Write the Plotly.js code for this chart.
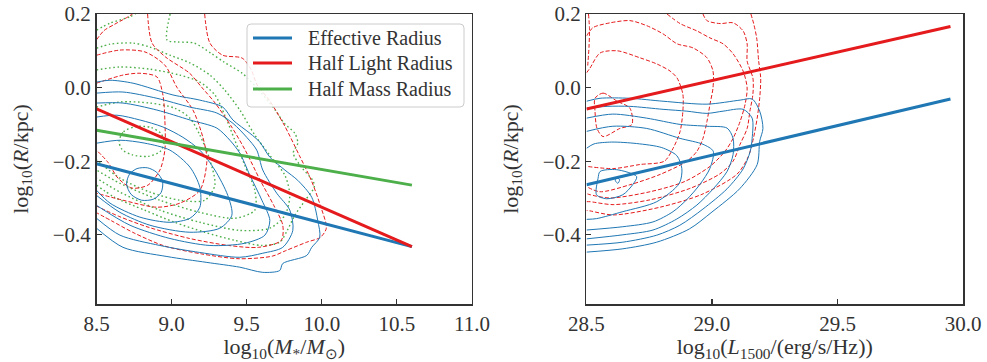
<!DOCTYPE html>
<html>
<head>
<meta charset="utf-8">
<script src="https://cdn.plot.ly/plotly-3.0.1.min.js"></script>
<style>html,body{margin:0;padding:0;background:#fff;}#chart{width:987px;height:362px;}</style>
</head>
<body>
<div id="chart"></div>
<script>
// ---------- Fit lines ----------
const massFitX = [8.5, 10.6];
const massEffY = [-0.207, -0.432];
const massHalfLightY = [-0.058, -0.432];
const massHalfMassY = [-0.116, -0.265];
const lumFitX = [28.5, 29.95];
const lumEffY = [-0.264, -0.031];
const lumHalfLightY = [-0.058, 0.166];
const legendLabels = ['Effective Radius', 'Half Light Radius', 'Half Mass Radius'];

// ---------- Left panel contours (stellar mass) ----------
// Effective radius (blue, solid)
const massEffC1 = [[8.5,0.015],[8.59,0.02],[8.743,0.012],[9.009,-0.02],[9.188,-0.034],[9.341,-0.053],[9.408,-0.088],[9.521,-0.124],[9.587,-0.148],[9.654,-0.189],[9.754,-0.224],[9.84,-0.252],[9.933,-0.298],[9.973,-0.361],[9.986,-0.407],[9.933,-0.434],[9.9,-0.456],[9.74,-0.478],[9.72,-0.497],[9.607,-0.502],[9.454,-0.488],[9.235,-0.475],[8.969,-0.459],[8.676,-0.434],[8.5,-0.382]];
const massEffC2 = [[8.5,-0.015],[8.676,-0.012],[8.902,-0.029],[9.122,-0.053],[9.301,-0.069],[9.408,-0.097],[9.5,-0.135],[9.567,-0.17],[9.607,-0.224],[9.7,-0.287],[9.787,-0.333],[9.807,-0.388],[9.74,-0.434],[9.607,-0.45],[9.454,-0.461],[9.188,-0.448],[8.922,-0.429],[8.656,-0.401],[8.5,-0.355]];
const massEffC3 = [[8.5,-0.042],[8.676,-0.042],[8.902,-0.061],[9.122,-0.088],[9.301,-0.11],[9.388,-0.143],[9.454,-0.178],[9.521,-0.238],[9.601,-0.306],[9.654,-0.361],[9.621,-0.401],[9.487,-0.423],[9.255,-0.429],[8.989,-0.41],[8.723,-0.374],[8.5,-0.32]];
const massEffC4 = [[8.5,-0.08],[8.636,-0.075],[8.789,-0.088],[8.942,-0.107],[9.075,-0.135],[9.188,-0.17],[9.288,-0.224],[9.374,-0.293],[9.401,-0.347],[9.321,-0.382],[9.122,-0.393],[8.856,-0.374],[8.656,-0.339],[8.5,-0.293]];
const massEffC5 = [[8.5,-0.151],[8.656,-0.143],[8.822,-0.151],[8.989,-0.17],[9.122,-0.216],[9.188,-0.271],[9.188,-0.325],[9.122,-0.355],[8.989,-0.366],[8.789,-0.352],[8.59,-0.314],[8.5,-0.279]];
const massEffC6 = [[8.70,-0.262],[8.72,-0.235],[8.77,-0.22],[8.84,-0.218],[8.9,-0.23],[8.94,-0.255],[8.93,-0.285],[8.88,-0.303],[8.8,-0.306],[8.73,-0.29],[8.70,-0.262]];
// Half light radius (red, dashed)
const massHLC0 = [[8.5,0.13],[8.55,0.155],[8.62,0.172],[8.7,0.19],[8.74,0.2]];
const massHLC1 = [[9.22,0.2],[9.255,0.121],[9.34,0.088],[9.47,0.08],[9.53,0.048],[9.57,0.007],[9.65,-0.034],[9.75,-0.102],[9.85,-0.184],[9.93,-0.252],[9.99,-0.32],[10.03,-0.382],[9.99,-0.407],[9.9,-0.42],[9.76,-0.443],[9.67,-0.458],[9.45,-0.465],[9.2,-0.452],[8.95,-0.43],[8.75,-0.395],[8.6,-0.362],[8.5,-0.34]];
const massHLC2 = [[8.84,0.2],[8.87,0.121],[8.96,0.083],[9.12,0.039],[9.2,0.001],[9.29,-0.042],[9.4,-0.107],[9.49,-0.17],[9.59,-0.252],[9.68,-0.32],[9.74,-0.374],[9.73,-0.415],[9.58,-0.434],[9.38,-0.429],[9.12,-0.41],[8.85,-0.38],[8.65,-0.35],[8.5,-0.322]];
const massHLC3 = [[8.5,0.088],[8.656,0.102],[8.822,0.097],[8.955,0.061],[9.035,0.001],[9.142,-0.061],[9.208,-0.135],[9.235,-0.197],[9.188,-0.279],[9.055,-0.314],[8.902,-0.325],[8.676,-0.306],[8.5,-0.287]];
const massHLC4 = [[8.5,0.012],[8.676,0.034],[8.789,0.039],[8.902,0.029],[8.942,-0.02],[8.955,-0.088],[8.955,-0.17],[8.922,-0.224],[8.842,-0.265],[8.736,-0.273],[8.643,-0.246],[8.576,-0.203],[8.5,-0.17]];
// Half mass radius (green, dotted)
const massHMC0 = [[8.5,0.156],[8.59,0.175],[8.72,0.192],[8.76,0.2]];
const massHMC1 = [[8.99,0.2],[8.97,0.129],[9.04,0.124],[9.15,0.121],[9.26,0.094],[9.35,0.069],[9.47,0.039],[9.57,-0.002],[9.69,-0.061],[9.75,-0.097],[9.82,-0.124],[9.84,-0.151],[9.81,-0.178],[9.87,-0.219],[9.94,-0.252],[9.95,-0.27],[9.89,-0.306],[9.82,-0.347],[9.77,-0.388],[9.72,-0.42],[9.6,-0.429],[9.42,-0.415],[9.22,-0.393],[9.02,-0.366],[8.82,-0.333],[8.62,-0.298],[8.5,-0.265]];
const massHMC2 = [[8.5,0.107],[8.59,0.118],[8.743,0.121],[8.856,0.11],[8.989,0.088],[9.122,0.067],[9.255,0.034],[9.354,-0.007],[9.454,-0.061],[9.554,-0.129],[9.654,-0.184],[9.754,-0.238],[9.787,-0.293],[9.754,-0.347],[9.654,-0.382],[9.454,-0.388],[9.188,-0.366],[8.922,-0.333],[8.656,-0.284],[8.5,-0.246]];
const massHMC3 = [[8.5,0.048],[8.656,0.056],[8.856,0.05],[9.055,0.034],[9.188,0.015],[9.288,-0.02],[9.354,-0.075],[9.421,-0.143],[9.487,-0.211],[9.554,-0.279],[9.554,-0.333],[9.421,-0.355],[9.188,-0.339],[8.922,-0.306],[8.656,-0.26],[8.5,-0.224]];
const massHMC4 = [[8.5,-0.053],[8.656,-0.039],[8.856,-0.042],[9.022,-0.056],[9.122,-0.083],[9.188,-0.129],[9.255,-0.197],[9.288,-0.265],[9.221,-0.306],[9.055,-0.306],[8.856,-0.284],[8.656,-0.246],[8.5,-0.197]];
const massHMC5 = [[8.65,-0.146],[8.68,-0.12],[8.76,-0.106],[8.86,-0.108],[8.93,-0.125],[8.95,-0.15],[8.92,-0.175],[8.84,-0.187],[8.74,-0.183],[8.67,-0.168],[8.65,-0.146]];

// ---------- Right panel contours (UV luminosity) ----------
const lumEffC1 = [[28.5,-0.037],[28.554,-0.029],[28.673,-0.029],[28.805,-0.037],[28.98,-0.045],[29.112,-0.034],[29.16,-0.031],[29.19,-0.064],[29.203,-0.111],[29.19,-0.146],[29.18,-0.209],[29.11,-0.275],[29.0,-0.338],[28.91,-0.384],[28.78,-0.42],[28.645,-0.438],[28.5,-0.447]];
const lumEffC2 = [[28.5,-0.056],[28.582,-0.051],[28.673,-0.051],[28.805,-0.059],[28.9,-0.064],[28.98,-0.07],[29.044,-0.064],[29.124,-0.059],[29.16,-0.083],[29.16,-0.138],[29.152,-0.174],[29.124,-0.221],[29.06,-0.275],[28.964,-0.33],[28.872,-0.374],[28.78,-0.401],[28.645,-0.42],[28.5,-0.428]];
const lumEffC3 = [[28.5,-0.083],[28.605,-0.072],[28.74,-0.083],[28.873,-0.1],[28.98,-0.105],[29.06,-0.11],[29.084,-0.138],[29.084,-0.182],[29.06,-0.228],[29.005,-0.275],[28.94,-0.319],[28.86,-0.357],[28.765,-0.387],[28.645,-0.4],[28.5,-0.411]];
const lumEffC4 = [[28.5,-0.119],[28.605,-0.105],[28.74,-0.111],[28.873,-0.138],[28.964,-0.154],[29.005,-0.173],[28.992,-0.219],[28.952,-0.263],[28.9,-0.304],[28.845,-0.337],[28.765,-0.365],[28.645,-0.378],[28.5,-0.387]];
const lumEffC5 = [[28.5,-0.165],[28.53,-0.153],[28.6,-0.148],[28.7,-0.152],[28.8,-0.163],[28.86,-0.185],[28.88,-0.22],[28.87,-0.26],[28.78,-0.31],[28.645,-0.337],[28.54,-0.356],[28.5,-0.358]];
const lumEffC6 = [[28.554,-0.228],[28.62,-0.223],[28.70,-0.242],[28.685,-0.263],[28.645,-0.291],[28.58,-0.302],[28.54,-0.291],[28.546,-0.247],[28.554,-0.228]];
const lumEffC7 = [[28.618,-0.245],[28.632,-0.25],[28.625,-0.26],[28.615,-0.253],[28.618,-0.245]];
const lumHLC0 = [[28.508,0.2],[28.512,0.16],[28.51,0.11],[28.505,0.06]];
const lumHLC1 = [[28.534,-0.029],[28.566,-0.015],[28.622,-0.037],[28.673,-0.056],[28.681,-0.1],[28.633,-0.111],[28.566,-0.133],[28.542,-0.111],[28.534,-0.064],[28.534,-0.029]];
const lumHLC2 = [[28.5,0.04],[28.514,0.053],[28.554,0.094],[28.622,0.1],[28.713,0.081],[28.781,0.064],[28.833,0.045],[28.861,0.026],[28.884,-0.018],[28.884,-0.064],[28.873,-0.119],[28.845,-0.165],[28.81,-0.2],[28.713,-0.209],[28.606,-0.22],[28.5,-0.214]];
const lumHLC3 = [[28.5,0.14],[28.526,0.163],[28.594,0.176],[28.673,0.182],[28.741,0.168],[28.805,0.146],[28.861,0.119],[28.924,0.108],[28.98,0.081],[29.004,0.045],[29.004,-0.001],[28.992,-0.045],[28.98,-0.092],[28.964,-0.138],[28.94,-0.173],[28.9,-0.2],[28.793,-0.236],[28.673,-0.264],[28.554,-0.283],[28.5,-0.269]];
const lumHLC4 = [[28.821,0.2],[28.873,0.174],[28.94,0.154],[28.992,0.135],[29.044,0.119],[29.084,0.092],[29.124,0.045],[29.14,-0.001],[29.132,-0.045],[29.112,-0.092],[29.084,-0.138],[29.052,-0.173],[28.992,-0.214],[28.892,-0.255],[28.753,-0.283],[28.594,-0.3],[28.514,-0.291],[28.5,-0.288]];
const lumHLC5 = [[28.964,0.2],[28.98,0.182],[29.032,0.174],[29.084,0.176],[29.124,0.154],[29.14,0.119],[29.14,0.072],[29.163,0.026],[29.163,-0.018],[29.151,-0.064],[29.14,-0.111],[29.112,-0.154],[29.084,-0.2],[29.032,-0.234],[28.912,-0.274],[28.753,-0.305],[28.606,-0.318],[28.514,-0.31],[28.5,-0.31]];
const lumHLC6 = [[29.155,0.2],[29.166,0.174],[29.178,0.135],[29.186,0.072],[29.194,0.026],[29.19,-0.029],[29.18,-0.083],[29.165,-0.138],[29.145,-0.187],[29.1,-0.235],[28.96,-0.29],[28.793,-0.325],[28.606,-0.346],[28.514,-0.335],[28.5,-0.334]];

const BLUE = '#1f77b4', RED = '#e41a1c', GREEN = '#4daf4a';

function contour(pts, xa, ya, color, dash, width) {
  return {
    type: 'scatter', mode: 'lines', xaxis: xa, yaxis: ya,
    x: pts.map(p => p[0]), y: pts.map(p => p[1]),
    line: {color: color, width: width || 1, dash: dash, shape: 'spline', smoothing: 0.8},
    showlegend: false, hoverinfo: 'skip'
  };
}

const traces = [];
[massHMC0, massHMC1, massHMC2, massHMC3, massHMC4, massHMC5].forEach(c => traces.push(contour(c, 'x', 'y', GREEN, '1.6px,2.6px', 1.4)));
[massHLC0, massHLC1, massHLC2, massHLC3, massHLC4].forEach(c => traces.push(contour(c, 'x', 'y', RED, '4px,2px', 1)));
[massEffC1, massEffC2, massEffC3, massEffC4, massEffC5, massEffC6].forEach(c => traces.push(contour(c, 'x', 'y', BLUE, 'solid', 1)));
[lumHLC0, lumHLC1, lumHLC2, lumHLC3, lumHLC4, lumHLC5, lumHLC6].forEach(c => traces.push(contour(c, 'x2', 'y2', RED, '4px,2px', 1)));
[lumEffC1, lumEffC2, lumEffC3, lumEffC4, lumEffC5, lumEffC6, lumEffC7].forEach(c => traces.push(contour(c, 'x2', 'y2', BLUE, 'solid', 1)));

traces.push({type:'scatter', mode:'lines', x: massFitX, y: massEffY, xaxis:'x', yaxis:'y', name: legendLabels[0], showlegend:false, line:{color:BLUE, width:3}});
traces.push({type:'scatter', mode:'lines', x: massFitX, y: massHalfLightY, xaxis:'x', yaxis:'y', name: legendLabels[1], showlegend:false, line:{color:RED, width:3}});
traces.push({type:'scatter', mode:'lines', x: massFitX, y: massHalfMassY, xaxis:'x', yaxis:'y', name: legendLabels[2], showlegend:false, line:{color:GREEN, width:3}});
traces.push({type:'scatter', mode:'lines', x: lumFitX, y: lumEffY, xaxis:'x2', yaxis:'y2', showlegend:false, line:{color:BLUE, width:3}});
traces.push({type:'scatter', mode:'lines', x: lumFitX, y: lumHalfLightY, xaxis:'x2', yaxis:'y2', showlegend:false, line:{color:RED, width:3}});

const FONT = 'Liberation Serif, Times New Roman, serif';
const axisBase = {
  showline: true, mirror: true, linecolor: '#333', linewidth: 1.5,
  ticks: 'inside', ticklen: 5, tickwidth: 1.2, tickcolor: '#333',
  showgrid: false, zeroline: false,
  tickfont: {family: FONT, size: 21, color: '#333'},
  tickformat: '.1f'
};
const yRange = [-0.588, 0.2];
const titleFont = {family: FONT, size: 22, color: '#333'};

// Legend box drawn in paper coordinates (plot area: x px/987, y (304-py)/290)
const W = 987, T = 14, B = 304, H = B - T;
const px = v => v / W, py = v => (B - v) / H;
const bx0 = px(247), bx1 = px(464), by0 = py(107), by1 = py(24);
const rx = 4 / W, ry = 4 / H;
const boxPath = `M ${bx0 + rx},${by1} L ${bx1 - rx},${by1} Q ${bx1},${by1} ${bx1},${by1 - ry} L ${bx1},${by0 + ry} Q ${bx1},${by0} ${bx1 - rx},${by0} L ${bx0 + rx},${by0} Q ${bx0},${by0} ${bx0},${by0 + ry} L ${bx0},${by1 - ry} Q ${bx0},${by1} ${bx0 + rx},${by1} Z`;
const rowY = [38, 63, 89];
const rowColors = [BLUE, RED, GREEN];
const shapes = [{type: 'path', xref: 'paper', yref: 'paper', path: boxPath, fillcolor: 'rgba(255,255,255,0.85)', line: {color: '#cccccc', width: 1}, layer: 'above'}];
const annotations = [];
rowY.forEach((r, i) => {
  shapes.push({type: 'line', xref: 'paper', yref: 'paper', x0: px(253), x1: px(292), y0: py(r), y1: py(r), line: {color: rowColors[i], width: 3}, layer: 'above'});
  annotations.push({xref: 'paper', yref: 'paper', x: px(306), y: py(r), xanchor: 'left', yanchor: 'middle', showarrow: false, text: legendLabels[i], font: {family: FONT, size: 20, color: '#333'}});
});

const layout = {
  width: 987, height: 362,
  margin: {l: 0, r: 0, t: T, b: 362 - B},
  paper_bgcolor: '#fff', plot_bgcolor: '#fff',
  font: {family: FONT, color: '#333'},
  showlegend: false,
  xaxis: Object.assign({}, axisBase, {domain: [0.0978, 0.4782], range: [8.5, 11.0], dtick: 0.5, tick0: 8.5,
    title: {text: 'log<sub>10</sub>(<i>M</i><sub>*</sub>/<i>M</i><sub>⊙</sub>)', font: titleFont, standoff: 0}, anchor: 'y'}),
  yaxis: Object.assign({}, axisBase, {domain: [0, 1], range: yRange, tickvals: [-0.4, -0.2, 0.0, 0.2],
    title: {text: 'log<sub>10</sub>(<i>R</i>/kpc)', font: titleFont, standoff: 18}, anchor: 'x'}),
  xaxis2: Object.assign({}, axisBase, {domain: [0.5942, 0.9757], range: [28.5, 30.0], dtick: 0.5, tick0: 28.5,
    title: {text: 'log<sub>10</sub>(<i>L</i><sub>1500</sub>/(erg/s/Hz))', font: titleFont, standoff: 0}, anchor: 'y2'}),
  yaxis2: Object.assign({}, axisBase, {domain: [0, 1], range: yRange, tickvals: [-0.4, -0.2, 0.0, 0.2],
    title: {text: 'log<sub>10</sub>(<i>R</i>/kpc)', font: titleFont, standoff: 18}, anchor: 'x2'}),
  shapes: shapes,
  annotations: annotations
};

Plotly.newPlot('chart', traces, layout, {staticPlot: true, displayModeBar: false});
</script>
</body>
</html>
